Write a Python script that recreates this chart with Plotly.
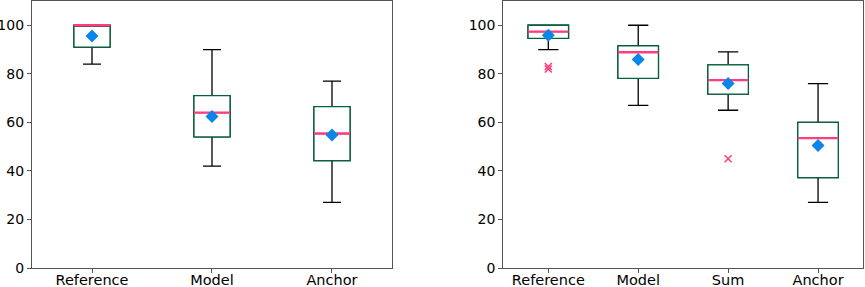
import plotly.graph_objects as go

# Left panel
left_labels = ["Reference", "Model", "Anchor"]
left_low = [84, 42, 27]
left_q1 = [91, 54, 44.2]
left_med = [100, 64, 55.4]
left_q3 = [100, 71, 66.5]
left_high = [100, 90, 77]
left_mean = [95.6, 62.4, 54.8]
left_outliers = [[], [], []]

# Right panel
right_labels = ["Reference", "Model", "Sum", "Anchor"]
right_low = [90, 67, 65, 27]
right_q1 = [94.6, 78.1, 71.6, 37.2]
right_med = [97.4, 88.9, 77.4, 53.5]
right_q3 = [100, 91.5, 83.7, 60]
right_high = [100, 100, 89, 76]
right_mean = [95.9, 85.9, 76.0, 50.5]
right_outliers = [[82, 83], [], [45], []]

BOX_EDGE = "#00643c"
MEDIAN = "#ff3d7f"
MEAN = "#0a85ea"
FRAME = "#555555"

fig = go.Figure()


def add_panel(labels, low, q1, med, q3, high, mean, outliers, xa, ya, width):
    pos = list(range(1, len(labels) + 1))
    # whiskers + caps (black)
    fig.add_trace(go.Box(
        x=pos, q1=q1, median=med, q3=q3, lowerfence=low, upperfence=high,
        width=width, whiskerwidth=0.5, line=dict(color="black", width=1.3),
        fillcolor="rgba(0,0,0,0)", xaxis=xa, yaxis=ya, showlegend=False,
        boxpoints=False, hoverinfo="skip"))
    # box body (green)
    fig.add_trace(go.Box(
        x=pos, q1=q1, median=med, q3=q3, lowerfence=q1, upperfence=q3,
        width=width, whiskerwidth=0, line=dict(color=BOX_EDGE, width=1.3),
        fillcolor="white", xaxis=xa, yaxis=ya, showlegend=False,
        boxpoints=False, hoverinfo="skip"))
    # medians
    mx, my = [], []
    for p, m in zip(pos, med):
        mx += [p - width / 2, p + width / 2, None]
        my += [m, m, None]
    fig.add_trace(go.Scatter(x=mx, y=my, mode="lines",
                             line=dict(color=MEDIAN, width=2.4),
                             xaxis=xa, yaxis=ya, showlegend=False, hoverinfo="skip"))
    # means
    fig.add_trace(go.Scatter(x=pos, y=mean, mode="markers",
                             marker=dict(symbol="diamond", size=10, color=MEAN),
                             xaxis=xa, yaxis=ya, showlegend=False))
    # outliers
    ox, oy = [], []
    for p, outs in zip(pos, outliers):
        for o in outs:
            ox.append(p)
            oy.append(o)
    if ox:
        fig.add_trace(go.Scatter(x=ox, y=oy, mode="markers",
                                 marker=dict(symbol="x-thin-open", size=7, color=MEDIAN,
                                             line=dict(color=MEDIAN, width=1.5)),
                                 xaxis=xa, yaxis=ya, showlegend=False))


add_panel(left_labels, left_low, left_q1, left_med, left_q3, left_high,
          left_mean, left_outliers, "x", "y", 0.3)
add_panel(right_labels, right_low, right_q1, right_med, right_q3, right_high,
          right_mean, right_outliers, "x2", "y2", 0.45)

axis_common = dict(showline=True, linecolor=FRAME, linewidth=1.3, mirror=True,
                   ticks="outside", ticklen=4, tickcolor=FRAME, showgrid=False,
                   zeroline=False, automargin=False)
xfont = dict(family="DejaVu Sans", size=14.5, color="black")
yfont = dict(family="DejaVu Sans", size=14, color="black")

fig.update_layout(
    width=865, height=287,
    margin=dict(l=32, r=2, t=1, b=19, pad=0),
    plot_bgcolor="white", paper_bgcolor="white",
    boxmode="overlay",
    xaxis=dict(domain=[0, 0.4332], range=[0.5, 3.5], tickmode="array",
               tickvals=[1, 2, 3], ticktext=left_labels, ticklabelstandoff=-6,
               tickfont=xfont, **axis_common),
    yaxis=dict(domain=[0, 1], range=[0, 110], tickmode="array",
               tickvals=[0, 20, 40, 60, 80, 100], tickfont=yfont, **axis_common),
    xaxis2=dict(domain=[0.5672, 1], range=[0.5, 4.5], anchor="y2", tickmode="array",
                tickvals=[1, 2, 3, 4], ticktext=right_labels, ticklabelstandoff=-6,
                tickfont=xfont, **axis_common),
    yaxis2=dict(domain=[0, 1], range=[0, 110], anchor="x2", tickmode="array",
                tickvals=[0, 20, 40, 60, 80, 100], tickfont=yfont, **axis_common),
)

fig.write_html("out.html", config={"displayModeBar": False},
               post_script="document.body.style.margin='0';document.body.style.padding='0';")
